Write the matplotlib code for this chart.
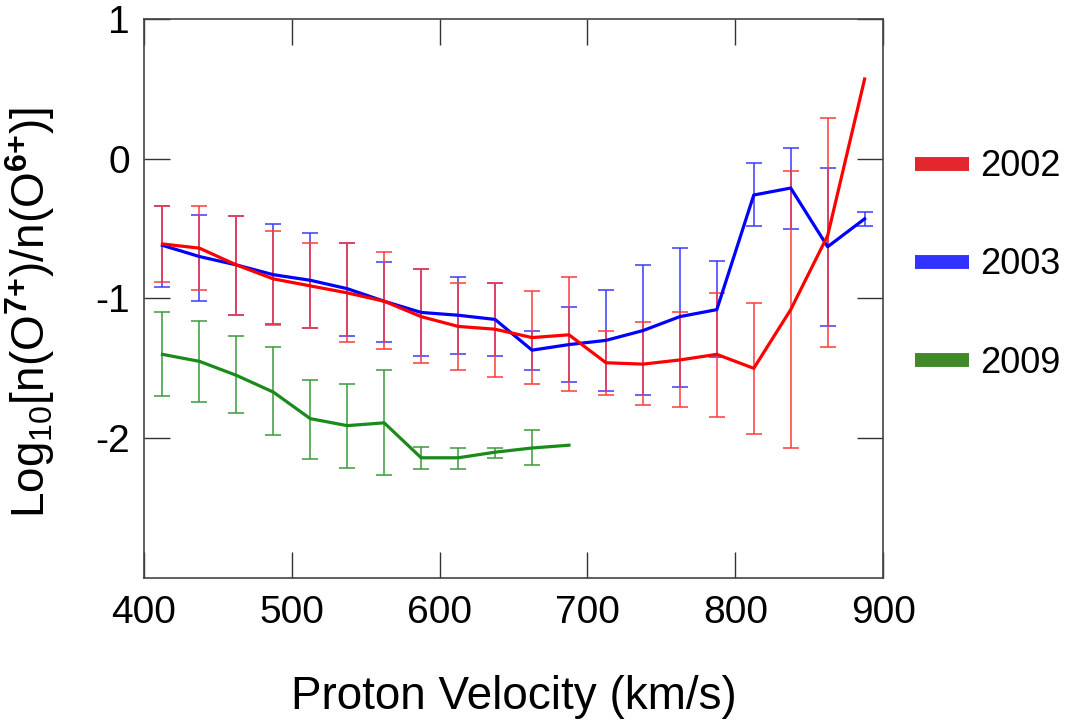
import numpy as np
import matplotlib
matplotlib.use('Agg')
import matplotlib.pyplot as plt
from matplotlib.lines import Line2D

plt.rcParams['font.family'] = ['Liberation Sans', 'DejaVu Sans']
plt.rcParams['mathtext.fontset'] = 'custom'
plt.rcParams['mathtext.rm'] = 'Liberation Sans'
plt.rcParams['mathtext.it'] = 'Liberation Sans'
plt.rcParams['mathtext.bf'] = 'Liberation Sans:bold'

# proton velocity bins (km/s)
vel = [412.5, 437.5, 462.5, 487.5, 512.5, 537.5, 562.5, 587.5, 612.5, 637.5,
       662.5, 687.5, 712.5, 737.5, 762.5, 787.5, 812.5, 837.5, 862.5, 887.5]

# 2002
red_y = [-0.61, -0.64, -0.76, -0.86, -0.91, -0.96, -1.02, -1.13, -1.20, -1.22,
         -1.28, -1.26, -1.46, -1.47, -1.44, -1.40, -1.50, -1.08, -0.55, 0.57]
red_hi = [-0.34, -0.34, -0.41, -0.52, -0.60, -0.60, -0.67, -0.79, -0.89, -0.89,
          -0.95, -0.85, -1.23, -1.17, -1.10, -0.96, -1.03, -0.09, 0.29, np.nan]
red_lo = [-0.88, -0.94, -1.12, -1.19, -1.21, -1.31, -1.36, -1.46, -1.51, -1.56,
          -1.61, -1.66, -1.69, -1.76, -1.78, -1.85, -1.97, -2.07, -1.35, np.nan]

# 2003
blue_y = [-0.62, -0.70, -0.76, -0.83, -0.87, -0.93, -1.02, -1.10, -1.12, -1.15,
          -1.37, -1.33, -1.30, -1.23, -1.13, -1.08, -0.26, -0.21, -0.63, -0.43]
blue_hi = [-0.34, -0.40, -0.41, -0.47, -0.53, -0.60, -0.74, -0.79, -0.85, -0.89,
           -1.23, -1.06, -0.94, -0.76, -0.64, -0.73, -0.03, 0.08, -0.07, -0.38]
blue_lo = [-0.92, -1.02, -1.12, -1.18, -1.21, -1.27, -1.31, -1.41, -1.40, -1.41,
           -1.51, -1.60, -1.66, -1.69, -1.63, -1.42, -0.48, -0.50, -1.20, -0.48]

# 2009
green_y = [-1.40, -1.45, -1.55, -1.67, -1.86, -1.91, -1.89, -2.14, -2.14, -2.10,
           -2.07, -2.05]
green_hi = [-1.10, -1.16, -1.27, -1.35, -1.58, -1.61, -1.51, -2.06, -2.07, -2.07,
            -1.94, np.nan]
green_lo = [-1.70, -1.74, -1.82, -1.98, -2.15, -2.21, -2.26, -2.22, -2.22, -2.14,
            -2.19, np.nan]

years = ['2002', '2003', '2009']
line_colors = ['#ff0000', '#0000ff', '#1a8a1a']
bar_colors = ['#ff3a3a', '#3a3aff', '#3a9a3a']
legend_colors = ['#e3262e', '#3333ff', '#418929']

fig = plt.figure(figsize=(10.65, 7.26), dpi=100)
ax = fig.add_axes([0.1352, 0.2039, 0.6940, 0.7700])

series = [(red_y, red_hi, red_lo), (blue_y, blue_hi, blue_lo), (green_y, green_hi, green_lo)]
# blue bars under red bars, lines on top
zorders = [3, 2, 2]
for (y, hi, lo), col, z in zip(series, bar_colors, zorders):
    y = np.array(y)
    hi = np.array(hi)
    lo = np.array(lo)
    x = np.array(vel[:len(y)])
    ok = np.isfinite(hi)
    ax.errorbar(x[ok], y[ok], yerr=[y[ok] - lo[ok], hi[ok] - y[ok]], fmt='none',
                ecolor=col, elinewidth=1.1, capsize=5.8, capthick=1.1, zorder=z)

line_z = [6, 5, 5]
for (y, hi, lo), col, z in zip(series, line_colors, line_z):
    ax.plot(vel[:len(y)], y, color=col, lw=2.3, zorder=z)

ax.set_xlim(400, 900)
ax.set_ylim(-3, 1)
ax.set_xticks([400, 500, 600, 700, 800, 900])
ax.set_yticks([-2, -1, 0, 1])
ax.set_yticklabels(['-2', '-1', '0', '1'])
ax.tick_params(direction='in', length=19, width=1, color='#333333',
               top=True, right=True)
ax.tick_params(axis='x', labelsize=28, pad=12)
ax.tick_params(axis='y', labelsize=28, pad=10)
for s in ax.spines.values():
    s.set_color('#444444')
    s.set_linewidth(1.2)

ax.set_xlabel('Proton Velocity (km/s)', fontsize=33, labelpad=32)
ax.set_ylabel(r'Log$_{10}$[n(O$^{\mathbf{7{+}}}$)/n(O$^{\mathbf{6{+}}}$)]', fontsize=33)
ax.yaxis.set_label_coords(-0.118, 0.475)

handles = [Line2D([], [], color=c, lw=10, solid_capstyle='butt') for c in legend_colors]
fig.legend(handles, years, loc='center left', bbox_to_anchor=(0.859, 0.635),
           frameon=False, fontsize=26, handlelength=1.5, handletextpad=0.3,
           labelspacing=1.75, borderpad=0, borderaxespad=0)

fig.savefig('out.png', dpi=100)
